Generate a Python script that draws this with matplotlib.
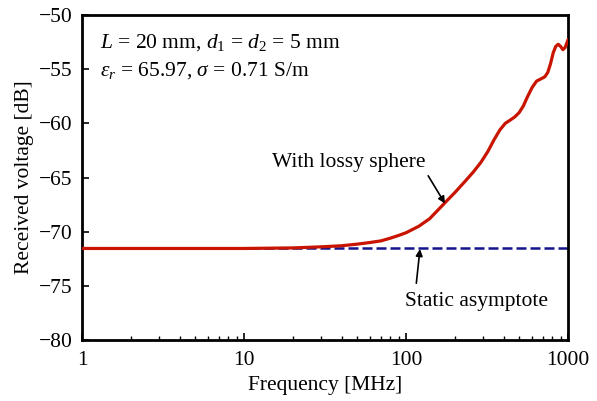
import matplotlib
matplotlib.use("Agg")
import matplotlib.pyplot as plt
from matplotlib.ticker import LogLocator, NullFormatter

plt.rcParams['font.family'] = ['Liberation Serif', 'DejaVu Serif']
plt.rcParams['mathtext.fontset'] = 'custom'
plt.rcParams['mathtext.rm'] = 'Liberation Serif'
plt.rcParams['mathtext.it'] = 'Liberation Serif:italic'

freq_mhz = [1, 2, 5, 10, 20, 30, 40, 50, 60, 70, 80, 90, 100, 120, 140, 160, 180,
            200, 230, 260, 290, 320, 350, 380, 410, 440, 470, 500, 530, 560, 600,
            640, 680, 720, 750, 780, 810, 840, 870, 900, 930, 960, 1000]
lossy_db = [-71.55, -71.55, -71.55, -71.55, -71.5, -71.4, -71.3, -71.15, -71.0,
            -70.85, -70.6, -70.35, -70.1, -69.5, -68.8, -67.9, -67.1,
            -66.4, -65.4, -64.5, -63.6, -62.6, -61.5, -60.6, -60.0, -59.7, -59.4,
            -59.0, -58.4, -57.6, -56.7, -56.1, -55.9, -55.7, -55.3, -54.5, -53.5,
            -52.9, -52.7, -52.9, -53.2, -53.0, -52.3]
asym_freq = [1, 1000]
asym_db = [-71.55, -71.55]

y_ticks = [-80, -75, -70, -65, -60, -55, -50]
x_ticks = [1, 10, 100, 1000]
x_ticklabels = ["1", "10", "100", "1000"]

FS = 15.5

fig = plt.figure(figsize=(5.97, 4.01), dpi=100)
ax = fig.add_axes([82/597, 1-340/401, (568-82)/597, (340-15)/401])

ax.plot(asym_freq, asym_db, color='#14148c', lw=1.8, ls=(0, (4, 1.6)), zorder=2)
ax.plot(freq_mhz, lossy_db, color='#c81400', lw=2.3, zorder=3)

ax.set_xscale('log')
ax.set_xlim(1, 1000)
ax.set_ylim(-80, -50)
ax.set_xticks(x_ticks)
ax.set_xticklabels(x_ticklabels)
ax.xaxis.set_minor_locator(LogLocator(base=10, subs=range(2, 10)))
ax.xaxis.set_minor_formatter(NullFormatter())
ax.set_yticks(y_ticks)
ax.set_yticklabels([str(v).replace('-', '\u2212') for v in y_ticks])

ax.tick_params(which='both', direction='in', labelsize=FS, top=False, right=False)
ax.tick_params(which='major', length=5, width=1.2)
ax.tick_params(which='minor', length=3, width=1)
ax.tick_params(axis='x', pad=8)
ax.tick_params(axis='y', pad=7)
for s in ax.spines.values():
    s.set_linewidth(2)

ax.set_xlabel('Frequency [MHz]', fontsize=FS, labelpad=4)
ax.set_ylabel('Received voltage [dB]', fontsize=FS, labelpad=3)

ax.text(0.037, 0.915, r'$L$ = 20 mm, $d_1$ = $d_2$ = 5 mm', transform=ax.transAxes,
        fontsize=FS, va='center', ha='left')
ax.text(0.037, 0.83, r'$\varepsilon_r$ = 65.97, $\sigma$ = 0.71 S/m', transform=ax.transAxes,
        fontsize=FS, va='center', ha='left')

ax.annotate('With lossy sphere', xy=(174, -67.4), xytext=(44.5, -63.6),
            fontsize=FS, ha='center', va='center',
            arrowprops=dict(arrowstyle='-|>', color='black', lw=1.2,
                            mutation_scale=10, shrinkA=1, shrinkB=0,
                            relpos=(1.0, 0.0)))
ax.annotate('Static asymptote', xy=(122, -71.6), xytext=(274, -76.4),
            fontsize=FS, ha='center', va='center',
            arrowprops=dict(arrowstyle='-|>', color='black', lw=1.2,
                            mutation_scale=10, shrinkA=4, shrinkB=0,
                            relpos=(0.07, 1.0)))

fig.savefig('out.png', dpi=100)
